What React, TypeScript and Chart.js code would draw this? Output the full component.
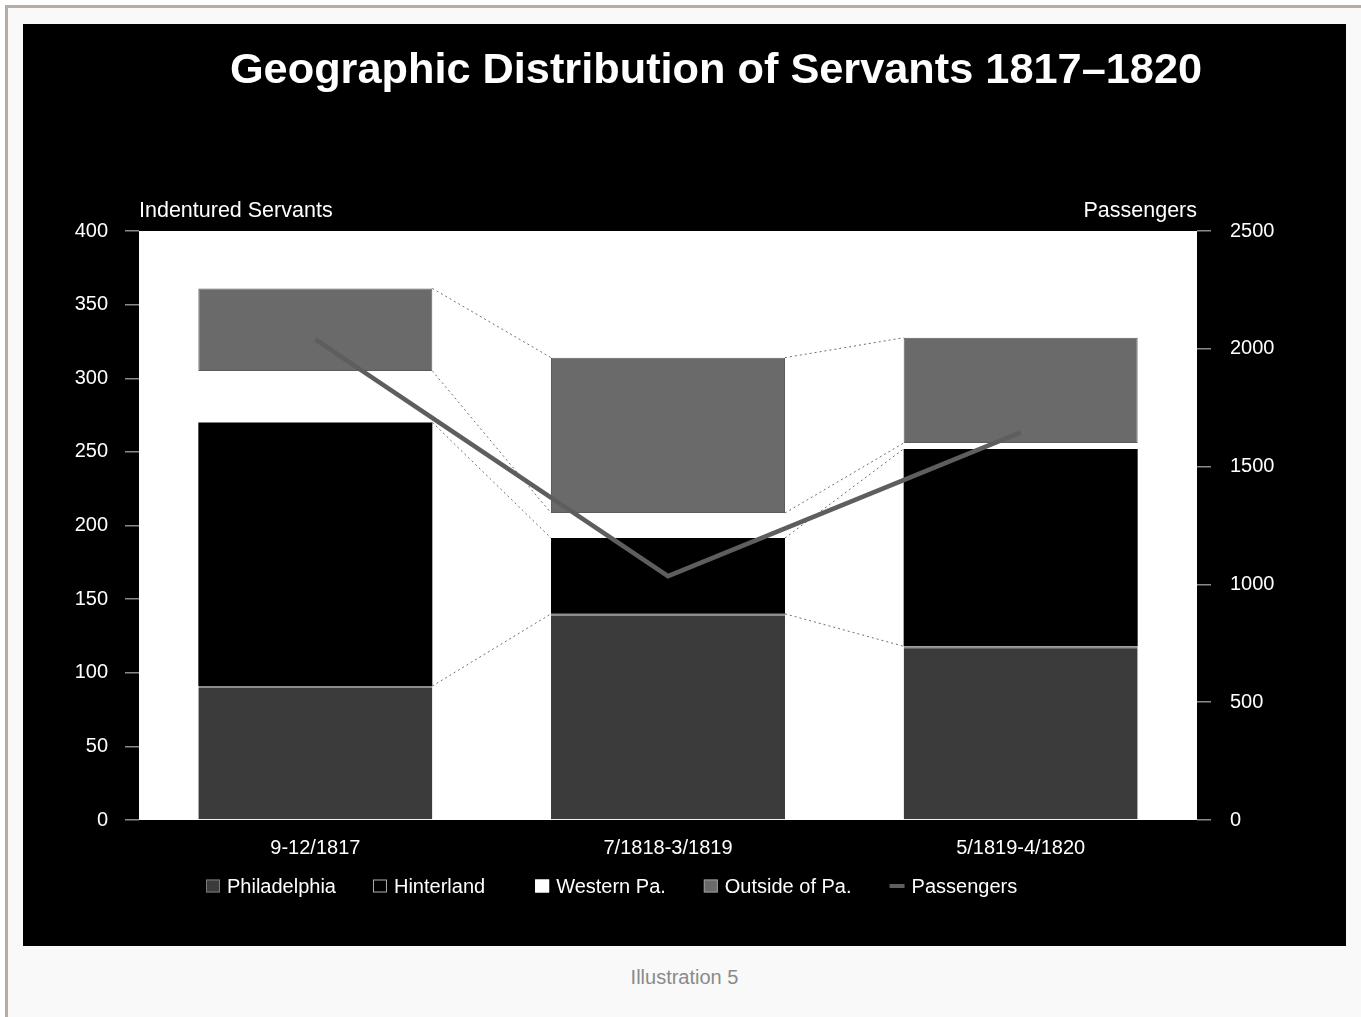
import React, { useEffect, useRef } from "react";
import { Chart, registerables } from "chart.js";

Chart.register(...registerables);

// Periods of registration
const periods = ["9-12/1817", "7/1818-3/1819", "5/1819-4/1820"];

// Indentured servants by destination (stacked segment sizes)
const philadelphia = [91, 140, 118];
const hinterland = [179, 51.5, 134];
const westernPa = [35, 17, 4];
const outsidePa = [56, 105.5, 71.5];

// Passengers arriving in each period (right axis)
const passengers = [2040, 1035, 1645];

// Axis ticks
const servantTicks = [0, 50, 100, 150, 200, 250, 300, 350, 400];
const passengerTicks = [0, 500, 1000, 1500, 2000, 2500];

const FONT = "'Liberation Sans', Arial, Helvetica, sans-serif";

const COLORS = {
  philadelphia: "#3b3b3b",
  hinterland: "#000000",
  western: "#ffffff",
  outside: "#6a6a6a",
  passengers: "#5e5e5e",
};

// White plotting area on the black panel
const plotBackground = {
  id: "plotBackground",
  beforeDraw(chart: any) {
    const { ctx, chartArea } = chart;
    ctx.save();
    ctx.fillStyle = "#000";
    ctx.fillRect(0, 0, chart.width, chart.height);
    ctx.fillStyle = "#fff";
    ctx.fillRect(chartArea.left, chartArea.top, chartArea.right - chartArea.left, chartArea.bottom - chartArea.top);
    ctx.restore();
  },
};

// Dotted lines joining the tops of matching segments on neighbouring bars
const seriesLines = {
  id: "seriesLines",
  beforeDatasetsDraw(chart: any) {
    const { ctx } = chart;
    ctx.save();
    ctx.strokeStyle = "#707070";
    ctx.lineWidth = 1;
    ctx.setLineDash([2, 3]);
    chart.data.datasets.forEach((_ds: any, di: number) => {
      const meta = chart.getDatasetMeta(di);
      if (meta.type !== "bar") return;
      const els = meta.data;
      for (let i = 0; i < els.length - 1; i++) {
        const a = els[i].getProps(["x", "y", "width"], true);
        const b = els[i + 1].getProps(["x", "y", "width"], true);
        ctx.beginPath();
        ctx.moveTo(a.x + a.width / 2, a.y);
        ctx.lineTo(b.x - b.width / 2, b.y);
        ctx.stroke();
      }
    });
    ctx.restore();
  },
};

// Title, axis captions and the legend row
const annotations = {
  id: "annotations",
  afterDraw(chart: any) {
    const { ctx, chartArea } = chart;
    ctx.save();
    ctx.fillStyle = "#fff";
    ctx.textBaseline = "alphabetic";

    ctx.font = `bold 43.3px ${FONT}`;
    ctx.textAlign = "center";
    ctx.fillText("Geographic Distribution of Servants 1817\u20131820", 693, 59);

    ctx.font = `21.5px ${FONT}`;
    ctx.textAlign = "left";
    ctx.fillText("Indentured Servants", chartArea.left, 193);
    ctx.textAlign = "right";
    ctx.fillText("Passengers", chartArea.right, 193);

    // legend
    const items = [
      { label: "Philadelphia", fill: COLORS.philadelphia, stroke: "#7a7a7a", line: false },
      { label: "Hinterland", fill: COLORS.hinterland, stroke: "#b0b0b0", line: false },
      { label: "Western Pa.", fill: COLORS.western, stroke: "#ffffff", line: false },
      { label: "Outside of Pa.", fill: COLORS.outside, stroke: "#9a9a9a", line: false },
      { label: "Passengers", fill: COLORS.passengers, stroke: COLORS.passengers, line: true },
    ];
    const gaps = [37, 50, 38, 38];
    const cy = 862;
    let x = 183;
    ctx.font = `20px ${FONT}`;
    ctx.textAlign = "left";
    ctx.textBaseline = "middle";
    items.forEach((it, i) => {
      if (it.line) {
        ctx.strokeStyle = it.stroke;
        ctx.lineWidth = 4;
        ctx.beginPath();
        ctx.moveTo(x, cy);
        ctx.lineTo(x + 15, cy);
        ctx.stroke();
      } else {
        ctx.fillStyle = it.fill;
        ctx.fillRect(x, cy - 6.5, 14, 13);
        ctx.strokeStyle = it.stroke;
        ctx.lineWidth = 1;
        ctx.strokeRect(x + 0.5, cy - 6, 13, 12);
      }
      const tx = x + (it.line ? 22 : 21);
      ctx.fillStyle = "#fff";
      ctx.fillText(it.label, tx, cy + 1);
      const w = ctx.measureText(it.label).width;
      x = tx + w + (gaps[i] ?? 0);
    });
    ctx.restore();
  },
};

export default function App() {
  const canvasRef = useRef<HTMLCanvasElement | null>(null);

  useEffect(() => {
    const canvas = canvasRef.current;
    if (!canvas) return;

    const tickGrid = {
      drawOnChartArea: false,
      drawTicks: true,
      tickLength: 14,
      color: "#8a8a8a",
      lineWidth: 1.5,
    };

    const chart = new Chart(canvas, {
      type: "bar",
      data: {
        labels: periods,
        datasets: [
          {
            label: "Philadelphia",
            data: philadelphia,
            backgroundColor: COLORS.philadelphia,
            borderColor: "#8c8c8c",
            borderWidth: { top: 2, left: 0, right: 0, bottom: 0 },
            borderSkipped: false,
            yAxisID: "y",
            order: 1,
          },
          {
            label: "Hinterland",
            data: hinterland,
            backgroundColor: COLORS.hinterland,
            borderWidth: 0,
            yAxisID: "y",
            order: 1,
          },
          {
            label: "Western Pa.",
            data: westernPa,
            backgroundColor: COLORS.western,
            borderWidth: 0,
            yAxisID: "y",
            order: 1,
          },
          {
            label: "Outside of Pa.",
            data: outsidePa,
            backgroundColor: COLORS.outside,
            borderColor: "#5c5c5c",
            borderWidth: 1,
            borderSkipped: false,
            yAxisID: "y",
            order: 1,
          },
          {
            type: "line",
            label: "Passengers",
            data: passengers,
            borderColor: COLORS.passengers,
            backgroundColor: COLORS.passengers,
            borderWidth: 4.5,
            pointRadius: 0,
            tension: 0,
            yAxisID: "y1",
            order: 0,
          } as any,
        ],
      },
      options: {
        animation: false,
        responsive: false,
        devicePixelRatio: 1,
        layout: { padding: { top: 207, left: 0, right: 0, bottom: 0 } },
        plugins: {
          legend: { display: false },
          title: { display: false },
          tooltip: { enabled: false },
        },
        datasets: {
          bar: { categoryPercentage: 1, barPercentage: 0.6635 },
        },
        scales: {
          x: {
            stacked: true,
            grid: { display: false, drawTicks: false },
            border: { display: false },
            ticks: { color: "#fff", font: { family: FONT, size: 20 }, padding: 16 },
            afterFit(scale: any) {
              scale.height = 126;
            },
          },
          y: {
            stacked: true,
            position: "left",
            min: 0,
            max: 400,
            afterBuildTicks(scale: any) {
              scale.ticks = servantTicks.map((v) => ({ value: v }));
            },
            grid: tickGrid,
            border: { display: false },
            ticks: {
              color: "#fff",
              font: { family: FONT, size: 20 },
              padding: 17,
              callback: (v: any) => String(v),
            },
            afterFit(scale: any) {
              scale.width = 116;
            },
          },
          y1: {
            position: "right",
            min: 0,
            max: 2500,
            afterBuildTicks(scale: any) {
              scale.ticks = passengerTicks.map((v) => ({ value: v }));
            },
            grid: tickGrid,
            border: { display: false },
            ticks: {
              color: "#fff",
              font: { family: FONT, size: 20 },
              padding: 19,
              callback: (v: any) => String(v),
            },
            afterFit(scale: any) {
              scale.width = 149;
            },
          },
        },
      } as any,
      plugins: [plotBackground, seriesLines, annotations],
    });

    return () => chart.destroy();
  }, []);

  return (
    <div style={{ position: "absolute", left: 0, top: 0, width: 1361, height: 1017, background: "#fff", overflow: "hidden" }}>
      <div
        style={{
          position: "absolute",
          left: 5,
          top: 5,
          width: 1361,
          height: 1017,
          background: "#f9f9f9",
          borderLeft: "3px solid #b6ada3",
          borderTop: "3px solid #b6ada3",
        }}
      />
      <canvas
        ref={canvasRef}
        width={1323}
        height={922}
        style={{ position: "absolute", left: 23, top: 24, width: 1323, height: 922, background: "#000" }}
      />
      <div
        style={{
          position: "absolute",
          left: 0,
          top: 966,
          width: 1369,
          textAlign: "center",
          fontFamily: FONT,
          fontSize: 20,
          lineHeight: "22px",
          color: "#8a8a8a",
        }}
      >
        Illustration 5
      </div>
    </div>
  );
}
